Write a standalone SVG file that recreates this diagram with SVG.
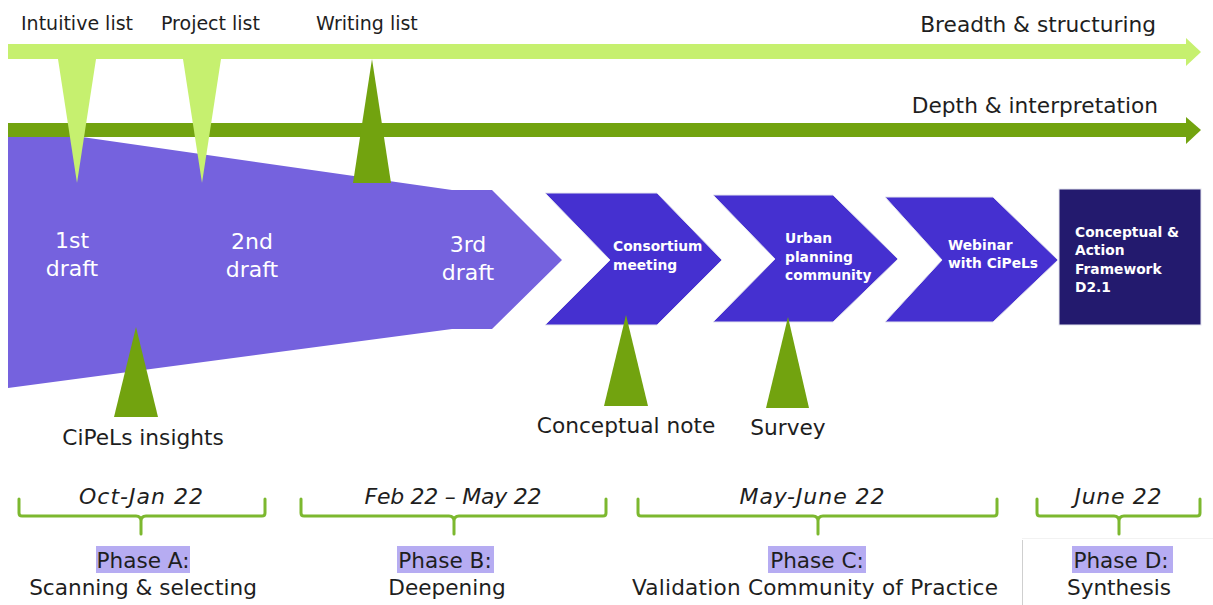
<svg xmlns="http://www.w3.org/2000/svg" width="1213" height="605" viewBox="0 0 1213 605">
<style>
.lbl{font-family:"DejaVu Sans","Liberation Sans",sans-serif;fill:#1e1e1e}
.top{font-size:19px}
.big{font-size:21.7px}
.date{font-size:22px;font-style:italic}
.ph{font-size:21.6px}
.draft{font-family:"DejaVu Sans","Liberation Sans",sans-serif;font-size:22px;fill:#ffffff;text-anchor:middle}
.chev{fill:#4530d0;stroke:#e4e4ee;stroke-width:1}
.ctext{font-family:"DejaVu Sans","Liberation Sans",sans-serif;font-size:13.8px;font-weight:bold;fill:#ffffff}
.lg{fill:#c6f06f}
.dg{fill:#72a30f}
.br{fill:none;stroke:#7cb82f;stroke-width:3;stroke-linejoin:round;stroke-linecap:round}
.hl{fill:#b6acf2}
.mid{text-anchor:middle}
</style>
<rect width="1213" height="605" fill="#ffffff"/>

<g id="connectors">
  <g id="breadth-arrow">
    <rect class="lg" x="8" y="44" width="1179" height="15"/>
    <polygon class="lg" points="1186,38 1201,52 1186,66"/>
  </g>
  <g id="depth-arrow">
    <rect class="dg" x="8" y="123" width="1179" height="14"/>
    <polygon class="dg" points="1186,117 1201,130 1186,144"/>
  </g>
</g>

<g id="drafts">
  <path d="M8,137 L82,137 L452,190 L492,190 L562,260 L492,329 L452,329 L8,388 Z" fill="#7562de"/>
  <text class="draft" x="72" y="248">1st</text>
  <text class="draft" x="72" y="276">draft</text>
  <text class="draft" x="252" y="249">2nd</text>
  <text class="draft" x="252" y="277">draft</text>
  <text class="draft" x="468" y="252">3rd</text>
  <text class="draft" x="468" y="280">draft</text>
</g>

<g id="intuitive-list">
  <polygon class="lg" points="58,59 96,59 77,183"/>
  <text class="lbl top" x="21" y="30">Intuitive list</text>
</g>
<g id="project-list">
  <polygon class="lg" points="183,59 221,59 202,183"/>
  <text class="lbl top" x="161" y="30">Project list</text>
</g>
<g id="writing-list">
  <polygon class="dg" points="372,59 391,183 353,183"/>
  <text class="lbl top" x="316" y="30">Writing list</text>
</g>

<text class="lbl big" x="1156" y="32" text-anchor="end">Breadth &amp; structuring</text>
<text class="lbl big" x="1158" y="113" text-anchor="end">Depth &amp; interpretation</text>

<g id="consortium">
  <polygon class="chev" points="545,193 657,193 722,260 657,325 545,325 610,260"/>
  <text class="ctext" x="613" y="251">Consortium</text>
  <text class="ctext" x="613" y="270">meeting</text>
</g>
<g id="urban">
  <polygon class="chev" points="713,195 833,195 898,259 833,322 713,322 775,259"/>
  <text class="ctext" x="785" y="243">Urban</text>
  <text class="ctext" x="785" y="262">planning</text>
  <text class="ctext" x="785" y="280">community</text>
</g>
<g id="webinar">
  <polygon class="chev" points="885,197 993,197 1058,260 993,322 885,322 942,260"/>
  <text class="ctext" x="948" y="250">Webinar</text>
  <text class="ctext" x="948" y="268">with CiPeLs</text>
</g>
<g id="framework">
  <rect x="1059" y="189" width="142" height="136" fill="#231a6e" stroke="#e4e4ee" stroke-width="1"/>
  <text class="ctext" x="1075" y="237">Conceptual &amp;</text>
  <text class="ctext" x="1075" y="255">Action</text>
  <text class="ctext" x="1075" y="274">Framework</text>
  <text class="ctext" x="1075" y="292">D2.1</text>
</g>

<g id="cipels-insights">
  <polygon class="dg" points="136,327 158,417 114,417"/>
  <text class="lbl big mid" x="143" y="445">CiPeLs insights</text>
</g>
<g id="conceptual-note">
  <polygon class="dg" points="626,315 648,406 604,406"/>
  <text class="lbl big mid" x="626" y="433">Conceptual note</text>
</g>
<g id="survey">
  <polygon class="dg" points="788,317 809,408 766,408"/>
  <text class="lbl big mid" x="788" y="435">Survey</text>
</g>

<g id="phase-a">
  <text class="lbl date mid" x="141" y="504" textLength="124">Oct-Jan 22</text>
  <path class="br" d="M19,499 V513 Q19,516 22,516 H136 Q141,516 141,521 V534 M141,521 Q141,516 146,516 H262 Q265,516 265,513 V499"/>
  <rect class="hl" x="96" y="546" width="94" height="27"/>
  <text class="lbl ph mid" x="143" y="568">Phase A:</text>
  <text class="lbl ph mid" x="143" y="595">Scanning &amp; selecting</text>
</g>
<g id="phase-b">
  <text class="lbl date mid" x="453" y="504" textLength="177">Feb 22 – May 22</text>
  <path class="br" d="M301,499 V513 Q301,516 304,516 H449 Q454,516 454,521 V534 M454,521 Q454,516 459,516 H603 Q606,516 606,513 V499"/>
  <rect class="hl" x="397" y="546" width="97" height="27"/>
  <text class="lbl ph mid" x="445" y="568">Phase B:</text>
  <text class="lbl ph mid" x="447" y="595">Deepening</text>
</g>
<g id="phase-c">
  <text class="lbl date mid" x="812" y="504" textLength="145">May-June 22</text>
  <path class="br" d="M638,499 V513 Q638,516 641,516 H813 Q818,516 818,521 V534 M818,521 Q818,516 823,516 H994 Q997,516 997,513 V499"/>
  <rect class="hl" x="768" y="546" width="98" height="27"/>
  <text class="lbl ph mid" x="817" y="568">Phase C:</text>
  <text class="lbl ph mid" x="815" y="595" textLength="366">Validation Community of Practice</text>
</g>
<g id="phase-d">
  <line x1="1022.5" y1="540" x2="1022.5" y2="605" stroke="#cfcfcf" stroke-width="1"/>
  <line x1="1022" y1="538.5" x2="1213" y2="538.5" stroke="#f2f2f2" stroke-width="1"/>
  <text class="lbl date mid" x="1118" y="504" textLength="87">June 22</text>
  <path class="br" d="M1037,499 V513 Q1037,516 1040,516 H1114 Q1119,516 1119,521 V534 M1119,521 Q1119,516 1124,516 H1197 Q1200,516 1200,513 V499"/>
  <rect class="hl" x="1072" y="546" width="101" height="27"/>
  <text class="lbl ph mid" x="1121" y="568">Phase D:</text>
  <text class="lbl ph mid" x="1119" y="595">Synthesis</text>
</g>
</svg>
